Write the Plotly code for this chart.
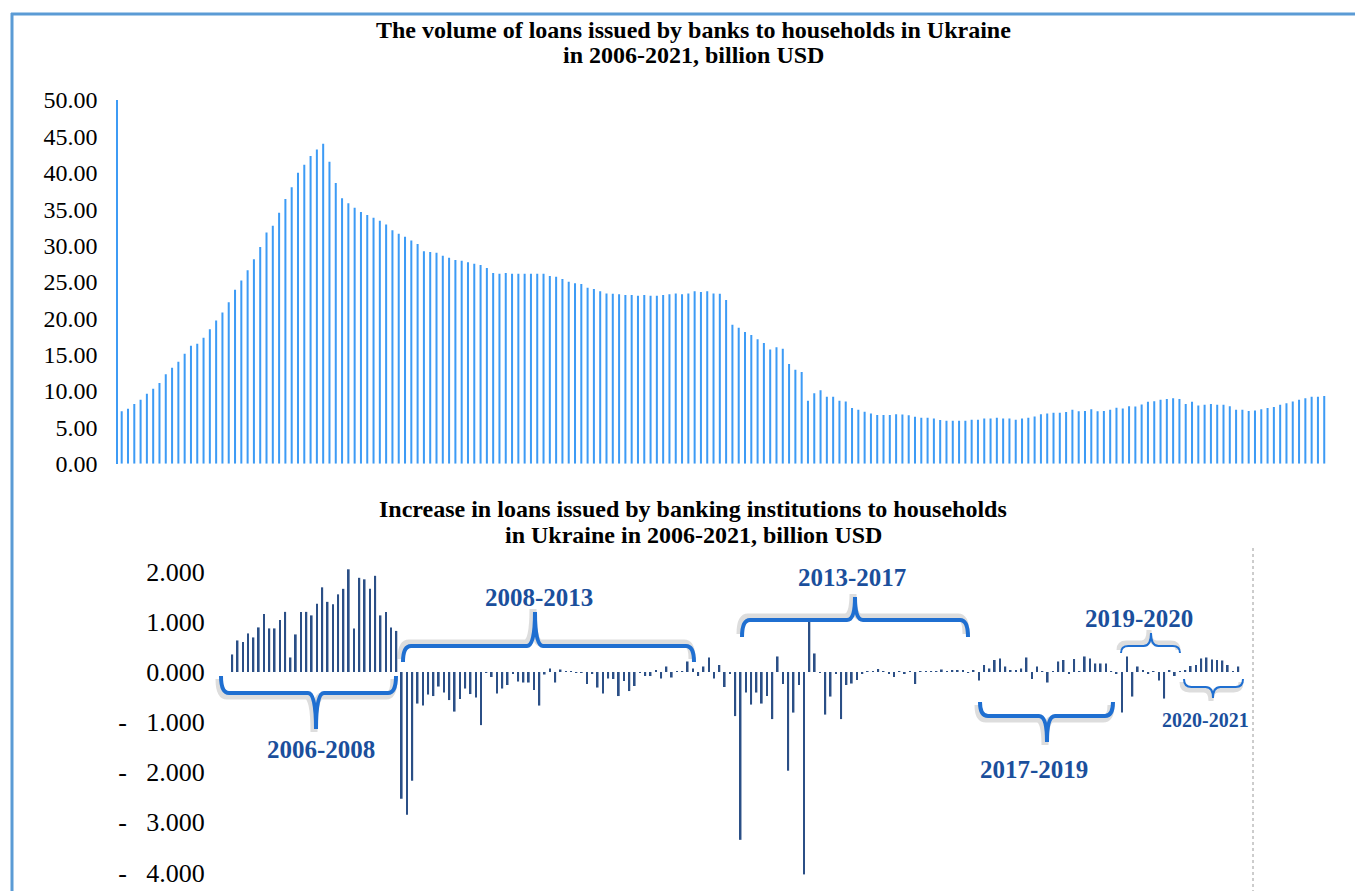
import plotly.graph_objects as go
import pandas as pd

# ---------------- data ----------------
months = [d.strftime("%b %Y") for d in pd.date_range("2006-01-01", "2021-12-01", freq="MS")]
inc_months = months[1:]

loans_volume = [
    7.2, 7.55, 8.2, 8.8, 9.6, 10.3, 11.1, 12.3, 13.2, 14.0, 15.1, 16.2,
    16.5, 17.3, 18.5, 19.7, 20.8, 22.2, 23.9, 25.2, 26.6, 28.1, 29.8, 31.8,
    32.7, 34.5, 36.4, 38.0, 40.0, 41.1, 42.3, 43.2, 44.0, 41.5, 38.6, 36.5,
    35.8, 35.2, 34.6, 34.2, 33.8, 33.4, 32.9, 32.1, 31.6, 31.2, 30.7, 30.2,
    29.2, 29.1, 29.0, 28.6, 28.3, 28.0, 27.9, 27.7, 27.5, 27.3, 26.9, 26.2,
    26.1, 26.2, 26.1, 26.1, 26.1, 26.1, 26.1, 26.1, 25.8, 25.7, 25.4, 25.0,
    24.8, 24.7, 24.2, 24.0, 23.7, 23.4, 23.35, 23.3, 23.2, 23.2, 23.1, 23.2,
    23.1, 23.1, 23.2, 23.3, 23.4, 23.3, 23.4, 23.7, 23.6, 23.7, 23.4, 23.35,
    22.5, 19.1, 18.7, 18.1, 17.7, 17.1, 16.6, 15.7, 16.0, 15.8, 13.7, 12.9,
    12.6, 8.65, 9.7, 10.1, 9.2, 9.2, 8.65, 8.55, 7.65, 7.4, 7.15, 6.9,
    6.7, 6.7, 6.7, 6.8, 6.75, 6.65, 6.45, 6.3, 6.3, 6.2, 6.0, 5.9,
    5.9, 5.9, 5.9, 6.05, 6.05, 6.2, 6.2, 6.3, 6.2, 6.2, 6.05, 6.2,
    6.3, 6.5, 6.8, 6.9, 7.0, 7.0, 7.1, 7.4, 7.2, 7.25, 7.5, 7.2,
    7.25, 7.4, 7.7, 7.6, 7.9, 7.85, 8.15, 8.5, 8.6, 8.8, 8.9, 9.0,
    8.9, 8.2, 8.5, 8.0, 8.1, 8.2, 8.1, 8.1, 7.9, 7.4, 7.4, 7.25,
    7.3, 7.5, 7.65, 7.8, 8.1, 8.3, 8.55, 8.8, 9.0, 9.2, 9.2, 9.3,
]

loans_increase = [
    0.35, 0.63, 0.60, 0.77, 0.69, 0.89, 1.16, 0.87, 0.87, 1.04, 1.20,
    0.29, 0.75, 1.20, 1.20, 1.13, 1.36, 1.69, 1.40, 1.35, 1.55, 1.66, 2.05,
    0.87, 1.88, 1.85, 1.66, 1.92, 1.13, 1.20, 0.89, 0.82, -2.53, -2.85, -2.17,
    -0.63, -0.67, -0.45, -0.48, -0.29, -0.41, -0.56, -0.79, -0.54, -0.33, -0.44, -0.51,
    -1.06, -0.02, -0.10, -0.43, -0.33, -0.26, -0.03, -0.19, -0.21, -0.21, -0.36, -0.67,
    -0.05, 0.07, -0.21, 0.05, 0.01, 0.01, -0.01, -0.02, -0.24, -0.03, -0.31, -0.43,
    -0.13, -0.14, -0.48, -0.18, -0.38, -0.28, -0.02, -0.08, -0.08, 0.03, -0.13, 0.11,
    -0.11, 0.01, 0.01, 0.21, 0.07, -0.08, 0.11, 0.29, -0.13, 0.14, -0.30, -0.03,
    -0.88, -3.35, -0.41, -0.65, -0.41, -0.63, -0.48, -0.94, 0.31, -0.24, -1.97, -0.81,
    -0.26, -4.04, 1.04, 0.37, -0.02, -0.85, -0.49, -0.03, -0.94, -0.26, -0.23, -0.16,
    -0.03, 0.02, 0.01, 0.06, 0.01, -0.03, -0.10, 0.01, -0.03, 0.01, -0.24, 0.01,
    0.01, 0.01, 0.01, 0.05, 0.01, 0.03, 0.03, 0.03, -0.02, 0.03, -0.17, 0.14,
    0.07, 0.24, 0.27, 0.11, 0.03, 0.03, 0.07, 0.29, -0.14, 0.11, 0.02, -0.21,
    0.02, 0.21, 0.24, -0.03, 0.26, 0.02, 0.31, 0.27, 0.17, 0.17, 0.17, 0.02,
    -0.03, -0.81, 0.31, -0.49, 0.11, 0.03, -0.03, 0.02, -0.17, -0.53, 0.03, -0.08,
    0.02, 0.04, 0.12, 0.14, 0.27, 0.29, 0.25, 0.24, 0.23, 0.14, 0.02, 0.11,
]

top_ticks = [0, 5, 10, 15, 20, 25, 30, 35, 40, 45, 50]
top_tick_text = ["0.00", "5.00", "10.00", "15.00", "20.00", "25.00", "30.00", "35.00", "40.00", "45.00", "50.00"]
bottom_ticks = [-4, -3, -2, -1, 0, 1, 2]
NB = "\u00a0"
bottom_tick_text = [f"-{NB*3}4.000", f"-{NB*3}3.000", f"-{NB*3}2.000", f"-{NB*3}1.000", "0.000", "1.000", "2.000"]

title_top = ["The volume of loans issued by banks to households in Ukraine",
             "in 2006-2021, billion USD"]
title_bottom = ["Increase in loans issued by banking institutions to households",
                "in Ukraine in 2006-2021, billion USD"]

period_labels = ["2006-2008", "2008-2013", "2013-2017", "2017-2019", "2019-2020", "2020-2021"]

# ---------------- layout helpers (pixel -> paper) ----------------
OFF = 8
W, H = 1363 - OFF, 891 - OFF


def px(x):
    return (x - OFF) / W


def py(y):
    return 1 - (y - OFF) / H


FONT = "Liberation Serif, Times New Roman, serif"
TOP_COLOR = "#3D9BF5"
BOT_COLOR = "#2B4F86"
BRACE_COLOR = "#1F6FD1"
LABEL_COLOR = "#1B4F9C"

fig = go.Figure()

fig.add_trace(go.Bar(
    x=months, y=loans_volume, marker=dict(color=TOP_COLOR, line=dict(width=0)),
    xaxis="x", yaxis="y", showlegend=False,
))
fig.add_trace(go.Bar(
    x=inc_months, y=loans_increase, marker=dict(color=BOT_COLOR, line=dict(width=0)),
    xaxis="x2", yaxis="y2", showlegend=False,
))

# top chart geometry
t_left, t_right, t_top, t_bot = 118.3, 1330.0, 100.0, 463.7
t_first, t_step = 121.7, 6.296
# bottom chart geometry
b_left, b_right, b_top, b_bot = 215.0, 1253.0, 548.0, 891.0
b_first, b_step = 232.3, 5.295
b_zero, b_unit = 672.0, 50.1

fig.update_layout(
    width=W, height=H, autosize=False,
    margin=dict(l=0, r=0, t=0, b=0, autoexpand=False),
    paper_bgcolor="white", plot_bgcolor="white",
    font=dict(family=FONT, color="black"),
    bargap=0.68,
    xaxis=dict(
        domain=[px(t_left), px(t_right)], anchor="y", type="category", automargin=False,
        range=[(t_left - t_first) / t_step, (t_right - t_first) / t_step],
        showticklabels=False, showgrid=False, zeroline=False, showline=False, ticks="",
    ),
    yaxis=dict(
        domain=[py(t_bot), py(t_top)], anchor="x", range=[0, 50], automargin=False,
        tickvals=top_ticks, ticktext=top_tick_text,
        tickfont=dict(size=24, family=FONT, color="black"),
        showgrid=False, zeroline=False,
        showline=True, linecolor=TOP_COLOR, linewidth=2,
        ticks="outside", ticklen=14, tickcolor="rgba(0,0,0,0)",
    ),
    xaxis2=dict(
        domain=[px(b_left), px(b_right)], anchor="y2", type="category", automargin=False,
        range=[(b_left - b_first) / b_step, (b_right - b_first) / b_step],
        showticklabels=False, showgrid=False, zeroline=False, showline=False, ticks="",
    ),
    yaxis2=dict(
        domain=[py(b_bot), py(b_top)], anchor="x2", automargin=False,
        range=[(b_zero - b_bot) / b_unit, (b_zero - b_top) / b_unit],
        tickvals=bottom_ticks, ticktext=bottom_tick_text,
        tickfont=dict(size=26, family=FONT, color="black"),
        showgrid=False, zeroline=False, showline=False,
        ticks="outside", ticklen=4, tickcolor="rgba(0,0,0,0)",
    ),
)

# titles (one annotation per line)
for txt, yy in zip(title_top, [30, 55]):
    fig.add_annotation(text=f"<b>{txt}</b>", x=px(693), y=py(yy), xref="paper", yref="paper",
                       showarrow=False, xanchor="center", yanchor="middle",
                       font=dict(size=24, family=FONT, color="black"))
for txt, yy in zip(title_bottom, [509, 535]):
    fig.add_annotation(text=f"<b>{txt}</b>", x=px(693), y=py(yy), xref="paper", yref="paper",
                       showarrow=False, xanchor="center", yanchor="middle",
                       font=dict(size=24, family=FONT, color="black"))

# outer frame
fig.add_shape(type="line", xref="paper", yref="paper", x0=px(11), x1=px(1363), y0=py(14), y1=py(14),
              line=dict(color="#5B9BD5", width=3))
fig.add_shape(type="line", xref="paper", yref="paper", x0=px(12), x1=px(12), y0=py(13), y1=py(891),
              line=dict(color="#5B9BD5", width=3))
# dotted right border of the lower chart
fig.add_shape(type="line", xref="paper", yref="paper", x0=px(1253), x1=px(1253), y0=py(548), y1=py(891),
              line=dict(color="#9a9a9a", width=1, dash="dot"))

# braces (pixel geometry)
braces = [
    # x0, x1, xm, yb, yh, yt, width, label_x, label_y, label_size
    (221, 396, 316, 693, 676, 729, 4, 321, 749, 25),
    (403, 694, 535, 646, 662, 612, 4, 539, 597, 25),
    (742, 968, 855, 620, 637, 597, 4, 852, 577, 25),
    (980, 1113, 1047, 716, 702, 742, 4, 1034, 769, 25),
    (1121, 1180, 1151, 646, 653, 633, 2, 1139, 618, 25),
    (1184, 1243, 1213, 687, 679, 698, 2, 1205, 720, 20),
]


def brace_path(x0, x1, xm, yb, yh, yt, r, dx=0.0, dy=0.0):
    pts = lambda x, y: f"{px(x + dx):.5f},{py(y + dy):.5f}"
    return (f"M {pts(x0, yh)} Q {pts(x0, yb)} {pts(x0 + r, yb)} L {pts(xm - r, yb)} "
            f"Q {pts(xm, yb)} {pts(xm, yt)} Q {pts(xm, yb)} {pts(xm + r, yb)} "
            f"L {pts(x1 - r, yb)} Q {pts(x1, yb)} {pts(x1, yh)}")


for (x0, x1, xm, yb, yh, yt, lw, lx, ly, ls), lab in zip(braces, period_labels):
    r = min(8, (x1 - x0) / 8)
    sgn = 1 if yt > yb else -1
    fig.add_shape(type="path", xref="paper", yref="paper",
                  path=brace_path(x0, x1, xm, yb, yh, yt, r, dx=-2, dy=3 * sgn),
                  line=dict(color="rgba(120,120,120,0.25)", width=lw + 3))
    fig.add_shape(type="path", xref="paper", yref="paper",
                  path=brace_path(x0, x1, xm, yb, yh, yt, r),
                  line=dict(color=BRACE_COLOR, width=lw))
    fig.add_annotation(text=f"<b>{lab}</b>", x=px(lx), y=py(ly), xref="paper", yref="paper",
                       showarrow=False, xanchor="center", yanchor="middle",
                       font=dict(size=ls, family=FONT, color=LABEL_COLOR))

fig.write_html("out.html")
